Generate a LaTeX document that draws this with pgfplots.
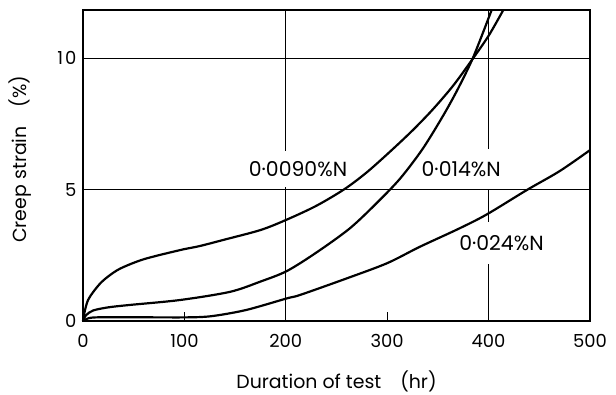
\documentclass[border=0pt]{standalone}
\usepackage{pgfplots}
\pgfplotsset{compat=1.18}
\usepackage{fontspec}
\setmainfont{Poppins}
\newcommand{\dd}{\raisebox{0.55ex}{.}}
\begin{document}
\begin{tikzpicture}[x=1bp,y=1bp]
\begin{axis}[
  scale only axis,
  width=507bp, height=311bp,
  xmin=0, xmax=500, ymin=0, ymax=11.83,
  axis line style={line width=1.6pt},
  xtick={0,100,200,300,400,500},
  xticklabels={0,100,200,300,400,500},
  ytick={0,5,10},
  yticklabels={0,5,1\hspace{0.12em}0},
  tick align=inside, xtick pos=bottom, ytick pos=left,
  major tick length=9bp,
  tick style={line width=1pt, black},
  ytick style={draw=none},
  ymajorgrids,
  grid style={line width=1.1pt, black},
  extra x ticks={200,400},
  extra x tick labels={},
  extra x tick style={grid=major, major tick length=0pt},
  /pgf/number format/assume math mode=true,
  tick label style={font=\fontsize{18}{20}\selectfont},
  xticklabel style={yshift=-10bp},
  yticklabel style={xshift=-3bp},
  clip=false,
]
\coordinate (sw) at (rel axis cs:0,0);
\coordinate (ne) at (rel axis cs:1,1);
\node[font=\fontsize{19}{22}\selectfont] at ([yshift=-60bp]rel axis cs:0.5,0) {Duration of test\quad(hr)};
\node[rotate=90, font=\fontsize{19}{22}\selectfont] at ([xshift=-63bp]rel axis cs:0,0.52) {Creep strain\quad(\%)};
\node[fill=white, inner xsep=1pt, inner ysep=10bp, font=\fontsize{20.5}{22}\selectfont] at (axis cs:212,5.78) {0\dd0090\%N};
\node[fill=white, inner xsep=1pt, inner ysep=12bp, font=\fontsize{20.5}{22}\selectfont] at (axis cs:373,5.78) {0\dd014\%N};
\node[fill=white, inner xsep=1pt, inner ysep=13bp, font=\fontsize{20.5}{22}\selectfont] at (axis cs:412.7,2.97) {0\dd024\%N};
\addplot[line width=2.2pt, smooth, tension=0.5] coordinates {
(0,0) (2,0.42) (5,0.8) (10,1.1) (17,1.43) (25,1.7) (37,2.0) (60,2.35) (96,2.7) (115,2.85) (140,3.1) (175,3.46) (200,3.84) (230,4.38) (258,5.02) (280,5.66) (303,6.45) (325,7.25) (345,8.05) (365,8.95) (383,9.9) (400,10.85) (414.5,11.83)};
\addplot[line width=2.2pt, smooth, tension=0.5] coordinates {
(0,0) (3,0.22) (10,0.4) (25,0.52) (46,0.61) (96,0.8) (145,1.11) (175,1.5) (201,1.9) (230,2.6) (263,3.52) (290,4.5) (313,5.43) (335,6.55) (355,7.8) (370,8.85) (385,10.05) (403,11.83)};
\addplot[line width=2.2pt, smooth, tension=0.5] coordinates {
(0,0) (5,0.1) (15,0.14) (60,0.14) (105,0.14) (128,0.19) (161,0.42) (201,0.86) (214,0.99) (260,1.62) (300,2.2) (332,2.82) (370,3.5) (398,4.05) (437.6,4.98) (470,5.7) (500,6.5)};
\end{axis}
\pgfresetboundingbox
\path ([shift={(-83bp,-73bp)}]sw) rectangle ([shift={(26bp,10bp)}]ne);
\end{tikzpicture}
\end{document}
